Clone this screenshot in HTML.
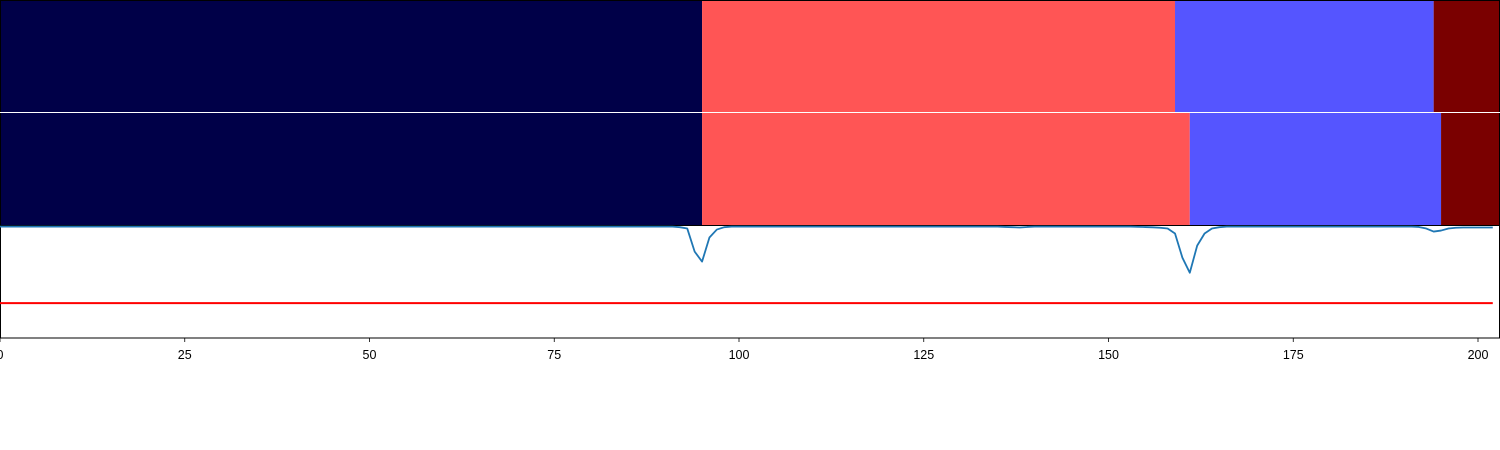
<!DOCTYPE html>
<html><head><meta charset="utf-8"><style>
html,body{margin:0;padding:0;background:#fff;}
svg{display:block;font-family:"Liberation Sans",sans-serif;}
</style></head><body>
<svg id="chart" width="1500" height="450"></svg>
<script>
const segStartsA=[0,95,159,194];
const segEndsA=[95,159,194,203];
const segStartsB=[0,95,161,195];
const segEndsB=[95,161,195,203];
const segColors=["#000048","#ff5555","#5555ff","#7a0000"];
const tickLabels=[0,25,50,75,100,125,150,175,200];
const threshold=0.31;
const lineValues=[
0.99,0.99,0.99,0.99,0.99,0.99,0.99,0.99,0.99,0.99,
0.99,0.99,0.99,0.99,0.99,0.99,0.99,0.99,0.99,0.99,
0.99,0.99,0.99,0.99,0.99,0.99,0.99,0.99,0.99,0.99,
0.99,0.99,0.99,0.99,0.99,0.99,0.99,0.99,0.99,0.99,
0.99,0.99,0.99,0.99,0.99,0.99,0.99,0.99,0.99,0.99,
0.99,0.99,0.99,0.99,0.99,0.99,0.99,0.99,0.99,0.99,
0.99,0.99,0.99,0.99,0.99,0.99,0.99,0.99,0.99,0.99,
0.99,0.99,0.99,0.99,0.99,0.99,0.99,0.99,0.99,0.99,
0.99,0.99,0.99,0.99,0.99,0.99,0.99,0.99,0.99,0.99,
0.99,0.99,0.985,0.973,0.768,0.679,0.893,0.964,0.985,0.99,
0.99,0.99,0.99,0.99,0.99,0.99,0.99,0.99,0.99,0.99,
0.99,0.99,0.99,0.99,0.99,0.99,0.99,0.99,0.99,0.99,
0.99,0.99,0.99,0.99,0.99,0.99,0.99,0.99,0.99,0.99,
0.99,0.99,0.99,0.99,0.99,0.99,0.987,0.985,0.982,0.987,
0.99,0.99,0.99,0.99,0.99,0.99,0.99,0.99,0.99,0.99,
0.99,0.99,0.99,0.99,0.988,0.986,0.984,0.98,0.973,0.929,
0.714,0.580,0.821,0.929,0.973,0.985,0.99,0.99,0.99,0.99,
0.99,0.99,0.99,0.99,0.99,0.99,0.99,0.99,0.99,0.99,
0.99,0.99,0.99,0.99,0.99,0.99,0.99,0.99,0.99,0.99,
0.99,0.99,0.987,0.973,0.946,0.955,0.973,0.98,0.982,0.982,
0.982,0.982,0.982
];
const NS="http://www.w3.org/2000/svg";
const svg=document.getElementById('chart');
const xScale=v=>v*7.39;
const lineTop=225.5,lineBot=338;
const yScale=v=>lineBot-v*(lineBot-lineTop);
function mk(tag,attrs){const e=document.createElementNS(NS,tag);for(const k in attrs)e.setAttribute(k,attrs[k]);svg.appendChild(e);return e;}
function drawSegs(starts,ends,y,h,name){
  for(let i=0;i<starts.length;i++){
    const x0=xScale(starts[i]),x1=Math.min(1500,xScale(ends[i]));
    const r=mk('rect',{x:x0,y:y,width:x1-x0,height:h,fill:segColors[i]});
    
    
  }
}
drawSegs(segStartsA,segEndsA,0,112,'top-strip');
drawSegs(segStartsB,segEndsB,113,112,'middle-strip');
const fr1=mk('path',{d:'M0.5 112 V0.5 H1499.5 V112',fill:'none',stroke:'#000','stroke-width':1});


const fr2=mk('path',{d:'M0.5 113 V225 M1499.5 113 V225',fill:'none',stroke:'#000','stroke-width':1});


const fr3=mk('rect',{x:0.5,y:225.5,width:1499,height:112.5,fill:'none',stroke:'#000','stroke-width':1});


const thr=mk('line',{x1:xScale(0),x2:xScale(lineValues.length-1),y1:yScale(threshold),y2:yScale(threshold),stroke:'#ff0000','stroke-width':2});


let d='';
lineValues.forEach((v,i)=>{d+=(i?'L':'M')+xScale(i).toFixed(2)+' '+yScale(v).toFixed(2);});
const p=mk('path',{d:d,fill:'none',stroke:'#1f77b4','stroke-width':1.8,'stroke-linejoin':'round'});


tickLabels.forEach(t=>{
  const x=xScale(t);
  const tk=mk('line',{x1:x,x2:x,y1:338,y2:342,stroke:'#000','stroke-width':0.8});
  
  
  const tx=mk('text',{x:x,y:359,'text-anchor':'middle','font-size':12.5,fill:'#000'});
  tx.textContent=t;
  
  
});
</script>
</body></html>
